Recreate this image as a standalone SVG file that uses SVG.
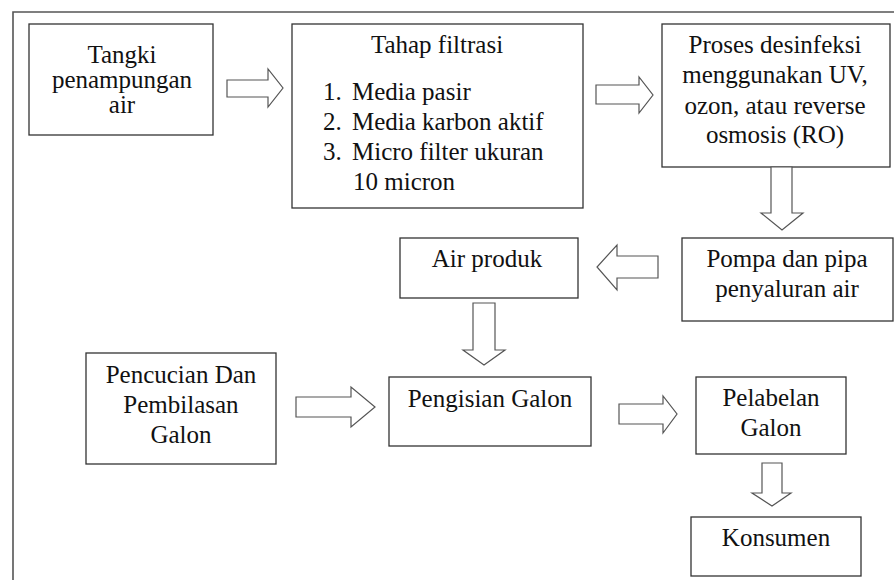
<svg xmlns="http://www.w3.org/2000/svg" width="894" height="580" viewBox="0 0 894 580">
<style>
.box{fill:#fff;stroke:#333;stroke-width:1.3}
.frame{fill:none;stroke:#555;stroke-width:1.6}
.arr{fill:#fff;stroke:#555;stroke-width:1.2;stroke-linejoin:miter}
.t{font-size:25px;fill:#111}
.c{text-anchor:middle}
</style>
<rect width="894" height="580" fill="#fff"/>
<path class="frame" d="M13,580 V12 H894"/>
<g font-family="Liberation Serif, serif">
<g id="tangki">
<rect class="box" x="29" y="24" width="184" height="111"/>
<text class="t c" x="122" y="63">Tangki</text>
<text class="t c" x="122" y="88">penampungan</text>
<text class="t c" x="122" y="113">air</text>
</g>
<g id="filtrasi">
<rect class="box" x="292" y="24" width="291" height="184"/>
<text class="t c" x="437" y="53">Tahap filtrasi</text>
<text class="t" x="323" y="100">1.</text><text class="t" x="352" y="100">Media pasir</text>
<text class="t" x="323" y="130">2.</text><text class="t" x="352" y="130">Media karbon aktif</text>
<text class="t" x="323" y="160">3.</text><text class="t" x="352" y="160">Micro filter ukuran</text>
<text class="t" x="353" y="190">10 micron</text>
</g>
<g id="desinfeksi">
<rect class="box" x="662" y="24" width="228" height="143"/>
<text class="t c" x="775" y="53">Proses desinfeksi</text>
<text class="t c" x="775" y="83">menggunakan UV,</text>
<text class="t c" x="775" y="114">ozon, atau reverse</text>
<text class="t c" x="775" y="143">osmosis (RO)</text>
</g>
<g id="pompa">
<rect class="box" x="682" y="238" width="211" height="83"/>
<text class="t c" x="787" y="267">Pompa dan pipa</text>
<text class="t c" x="787" y="297">penyaluran air</text>
</g>
<g id="airproduk">
<rect class="box" x="400" y="238" width="178" height="60"/>
<text class="t c" x="487" y="267">Air produk</text>
</g>
<g id="pencucian">
<rect class="box" x="86" y="353" width="190" height="111"/>
<text class="t c" x="181" y="383">Pencucian Dan</text>
<text class="t c" x="181" y="413">Pembilasan</text>
<text class="t c" x="181" y="443">Galon</text>
</g>
<g id="pengisian">
<rect class="box" x="389" y="377" width="202" height="69"/>
<text class="t c" x="490" y="407">Pengisian Galon</text>
</g>
<g id="pelabelan">
<rect class="box" x="696" y="377" width="150" height="77"/>
<text class="t c" x="771" y="406">Pelabelan</text>
<text class="t c" x="771" y="436">Galon</text>
</g>
<g id="konsumen">
<rect class="box" x="691" y="517" width="170" height="59"/>
<text class="t c" x="776" y="546">Konsumen</text>
</g>
</g>
<g id="connectors">
<polygon class="arr" points="227,80 268,80 268,69 283,88 268,107 268,97 227,97"/>
<polygon class="arr" points="596,85 639,85 639,77 653,95 639,113 639,104 596,104"/>
<polygon class="arr" points="771,167 792,167 792,213 803,213 782,230 761,213 771,213"/>
<polygon class="arr" points="658,256 617,256 617,245 597,267 617,290 617,278 658,278"/>
<polygon class="arr" points="473,303 495,303 495,350 505,350 484,365 463,350 473,350"/>
<polygon class="arr" points="296,397 351,397 351,387 375,407 351,427 351,417 296,417"/>
<polygon class="arr" points="619,404 663,404 663,396 677,414 663,433 663,424 619,424"/>
<polygon class="arr" points="762,463 782,463 782,493 791,493 772,506 752,493 762,493"/>
</g>
</svg>
